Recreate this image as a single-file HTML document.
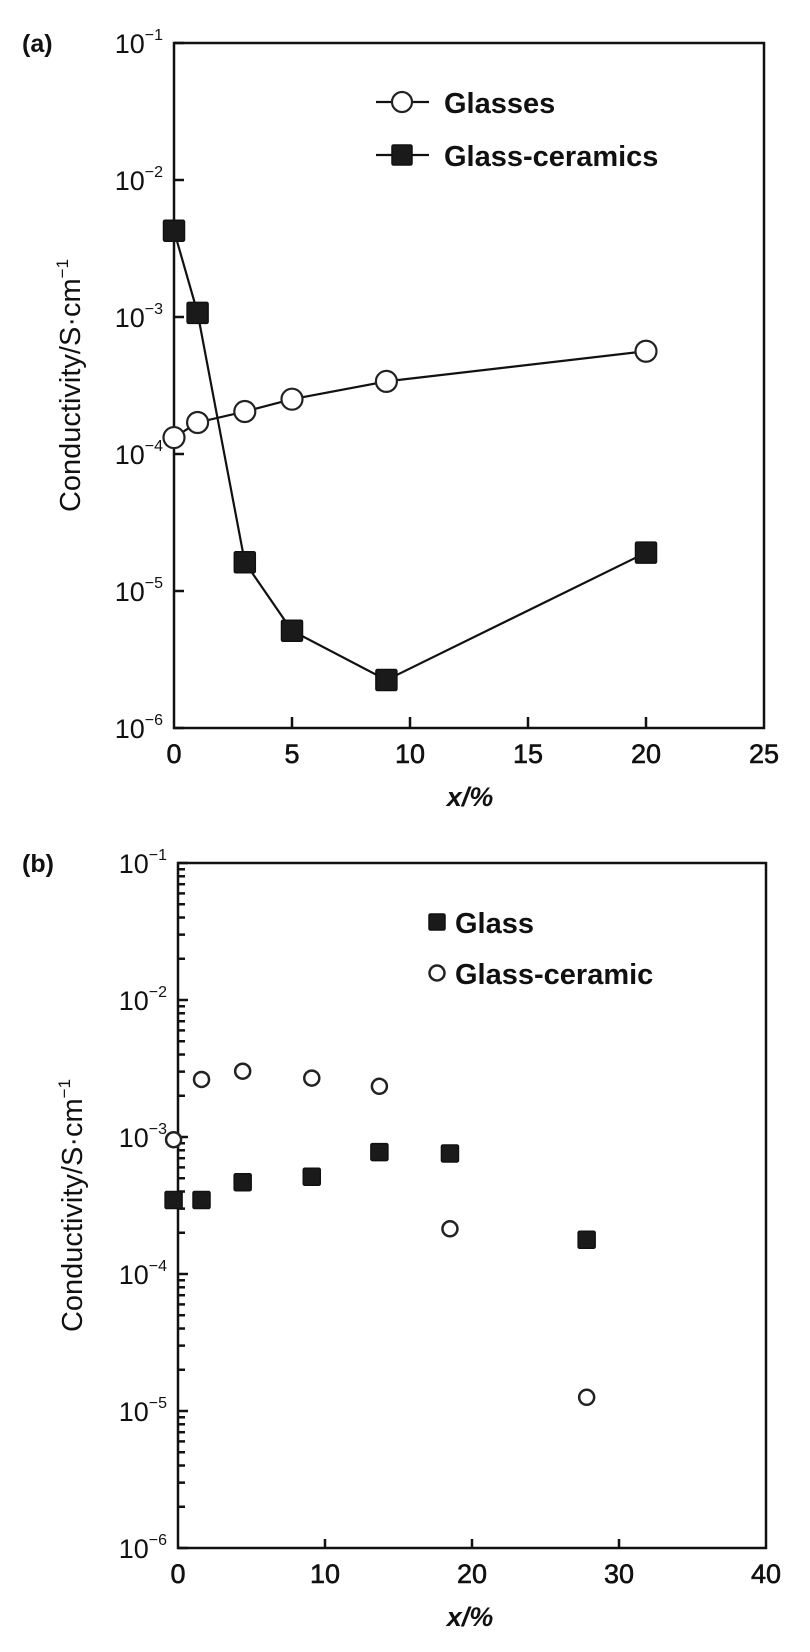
<!DOCTYPE html>
<html><head><meta charset="utf-8"><style>
body{margin:0;background:#fff;}
svg{display:block;font-family:"Liberation Sans",Arial,sans-serif;}
</style></head><body>
<svg id="fig" width="810" height="1652" viewBox="0 0 810 1652"></svg>
<script>
// Panel (a) data
const aX = [0, 1, 3, 5, 9, 20];
const aGlasses = [-3.88, -3.77, -3.69, -3.60, -3.47, -3.25];      // log10 conductivity
const aCeramics = [-2.37, -2.97, -4.79, -5.29, -5.65, -4.72];     // log10 conductivity
const aXTicks = [0, 5, 10, 15, 20, 25];
const yDecades = [-1, -2, -3, -4, -5, -6];
// Panel (b) data (x positions as plotted in the figure)
const bXGlass = [-0.3, 1.6, 4.4, 9.1, 13.7, 18.5, 27.8];
const bGlass = [-3.46, -3.46, -3.33, -3.29, -3.11, -3.12, -3.75];
const bXCer = [-0.3, 1.6, 4.4, 9.1, 13.7, 18.5, 27.8];
const bCeramic = [-3.02, -2.58, -2.52, -2.57, -2.63, -3.67, -4.90];
const bXTicks = [0, 10, 20, 30, 40];

const NS = "http://www.w3.org/2000/svg";
const svg = document.getElementById('fig');
function el(tag, attrs, parent){
  const e = document.createElementNS(NS, tag);
  for (const k in attrs) e.setAttribute(k, attrs[k]);
  (parent||svg).appendChild(e);
  return e;
}
function txt(x,y,s,attrs,parent){const t=el('text',Object.assign({x:x,y:y},attrs||{}),parent);t.textContent=s;return t;}

function panel(cfg){
  const g = el('g',{});
  
  
  const L=cfg.left,R=cfg.right,T=cfg.top,B=cfg.bottom;
  const xs = v => L + (v - cfg.xmin)/(cfg.xmax-cfg.xmin)*(R-L);
  const ys = v => T + (-1 - v)/5*(B-T);
  const frame = el('rect',{x:L,y:T,width:R-L,height:B-T,fill:'none',stroke:'#111','stroke-width':2.5},g);
  
  
  yDecades.forEach(d=>{
    const y=ys(d);
    el('line',{x1:L,y1:y,x2:L+10,y2:y,stroke:'#111','stroke-width':2.5},g);
    const t=el('text',{x:L-11,y:y+10,'font-size':27,'text-anchor':'end',fill:'#111'},g);
    
    
    t.innerHTML='10<tspan font-size="16" dy="-13">−'+(-d)+'</tspan>';
    if(cfg.minor && d>-6){
      for(let m=2;m<=9;m++){
        const ym=ys(d-1+Math.log10(m));
        el('line',{x1:L,y1:ym,x2:L+7,y2:ym,stroke:'#111','stroke-width':2.5},g);
      }
    }
  });
  cfg.xticks.forEach(v=>{
    const x=xs(v);
    if(v!==cfg.xmin && v!==cfg.xmax) el('line',{x1:x,y1:B,x2:x,y2:B-cfg.xtl,stroke:'#111','stroke-width':2.5},g);
    const t=txt(x,B+35,String(v),{'font-size':27,'text-anchor':'middle',fill:'#111','stroke':'#111','stroke-width':0.6},g);
    
    
  });
  const xt=txt(470,B+78,'x/%',{'font-size':27,'font-weight':'bold','font-style':'italic','text-anchor':'middle',fill:'#111'},g);
  
  
  const cy=(T+B)/2;
  const yt=el('text',{x:0,y:0,'font-size':29,'text-anchor':'middle',fill:'#111',transform:'translate('+cfg.ytx+','+cy+') rotate(-90)'},g);
  yt.innerHTML='Conductivity/S·cm<tspan font-size="17" dy="-12">−1</tspan>';
  
  
  const pl=txt(22,cfg.labelY,cfg.label,{'font-size':25,'font-weight':'bold',fill:'#111'},g);
  
  
  return {g,xs,ys};
}

function square(g,x,y,s,name){
  const r=el('rect',{x:x-s/2,y:y-s/2,width:s,height:s,fill:'#1a1a1a',stroke:'#111','stroke-width':1.5,rx:1.5},g);
  
  
}
function circle(g,x,y,r,name,sw){
  const c=el('circle',{cx:x,cy:y,r:r,fill:'#fff',stroke:'#222','stroke-width':sw||2.2},g);
  
  
}

// Panel a
const A = panel({name:'panel-a',left:174,right:764,top:43,bottom:728,xmin:0,xmax:25,xticks:aXTicks,xtl:11,minor:false,ytx:80,label:'(a)',labelY:52});
let pts=aX.map((v,i)=>A.xs(v)+','+A.ys(aCeramics[i])).join(' ');
let pl=el('polyline',{points:pts,fill:'none',stroke:'#111','stroke-width':2.2},A.g);


pts=aX.map((v,i)=>A.xs(v)+','+A.ys(aGlasses[i])).join(' ');
pl=el('polyline',{points:pts,fill:'none',stroke:'#111','stroke-width':2.2},A.g);


aX.forEach((v,i)=>square(A.g,A.xs(v),A.ys(aCeramics[i]),21,'glass-ceramics-point'));
aX.forEach((v,i)=>circle(A.g,A.xs(v),A.ys(aGlasses[i]),10.5,'glasses-point'));
const la=el('g',{},A.g);


el('line',{x1:376,y1:102,x2:429,y2:102,stroke:'#111','stroke-width':2.2},la);
circle(la,402,102,10,'legend-glasses-marker');
txt(444,113,'Glasses',{'font-size':29,'font-weight':'bold',fill:'#111'},la);
el('line',{x1:376,y1:155,x2:429,y2:155,stroke:'#111','stroke-width':2.2},la);
square(la,402,155,20,'legend-glass-ceramics-marker');
txt(444,166,'Glass-ceramics',{'font-size':29,'font-weight':'bold',fill:'#111'},la);

// Panel b
const B = panel({name:'panel-b',left:178,right:766,top:863,bottom:1548,xmin:0,xmax:40,xticks:bXTicks,xtl:9,minor:true,ytx:82,label:'(b)',labelY:872});
bXGlass.forEach((v,i)=>square(B.g,B.xs(v),B.ys(bGlass[i]),17,'glass-point'));
bXCer.forEach((v,i)=>circle(B.g,B.xs(v),B.ys(bCeramic[i]),7.5,'glass-ceramic-point',2.5));
const lb=el('g',{},B.g);


square(lb,437,922,16,'legend-glass-marker');
txt(455,933,'Glass',{'font-size':29,'font-weight':'bold',fill:'#111'},lb);
circle(lb,437,973,7.5,'legend-glass-ceramic-marker',2.5);
txt(455,984,'Glass-ceramic',{'font-size':29,'font-weight':'bold',fill:'#111'},lb);
</script>
</body></html>
